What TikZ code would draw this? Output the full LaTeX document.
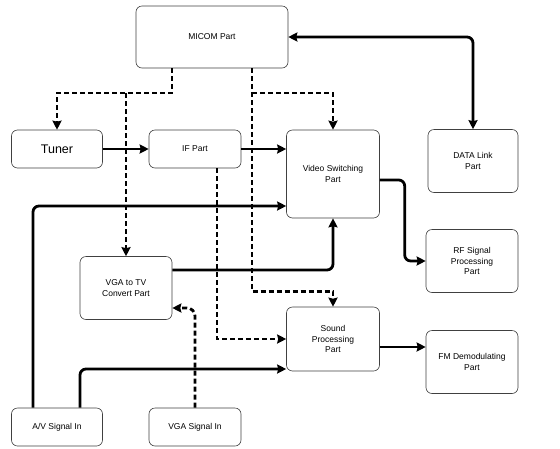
\documentclass[tikz,border=0pt]{standalone}
\usepackage{fontspec}
\setmainfont{Liberation Sans}
\usetikzlibrary{arrows.meta}

\begin{document}
\begin{tikzpicture}[
    x=1pt, y=-1pt,
    myblock/.style={rectangle, draw=black!75, line width=0.6pt, fill=white, font=\fontsize{8.5}{10.5}\selectfont, rounded corners=6pt, align=center, inner sep=0pt},
    myarrow/.style={->, >={Stealth[length=9pt,width=9pt,inset=1pt]}, line width=2.8pt, rounded corners=6pt},
    mydash/.style={->, >={Stealth[length=9pt,width=9pt,inset=1pt]}, line width=2.8pt, dash pattern=on 5pt off 3pt},
]
\useasboundingbox (0,0) rectangle (560,448);

\node[myblock, minimum width=152pt, minimum height=62pt] (micom) at (212,37) {MICOM Part};
\node[myblock, minimum width=91pt, minimum height=38pt, font=\fontsize{12.5}{14}\selectfont] (tuner) at (57,149) {Tuner};
\node[myblock, minimum width=92pt, minimum height=38pt] (ifpart) at (195,149) {IF Part};
\node[myblock, minimum width=93pt, minimum height=88pt] (video) at (333,174) {Video Switching\\Part};
\node[myblock, minimum width=90pt, minimum height=63pt] (datalink) at (473,161) {DATA Link\\Part};
\node[myblock, minimum width=92pt, minimum height=63pt] (rf) at (472,261) {RF Signal\\Processing\\Part};
\node[myblock, minimum width=92pt, minimum height=63pt] (vgatv) at (126,288) {VGA to TV\\Convert Part};
\node[myblock, minimum width=93pt, minimum height=64pt] (sound) at (333,339) {Sound\\Processing\\Part};
\node[myblock, minimum width=92pt, minimum height=63pt] (fm) at (472,362) {FM Demodulating\\Part};
\node[myblock, minimum width=91pt, minimum height=38pt] (av) at (57,427) {A/V Signal In};
\node[myblock, minimum width=92pt, minimum height=38pt] (vgain) at (195,427) {VGA Signal In};

\coordinate (jl) at (126,93);
\coordinate (jr) at (252,93);

% control lines
\draw[mydash] ([xshift=-40pt]micom.south) |- (tuner.north |- jl) -- (tuner.north);
\draw[mydash] (jl) -- (vgatv.north);
\draw[mydash] ([xshift=40pt]micom.south) |- ([yshift=15pt]sound.north) -- (sound.north);
\draw[mydash] (jr) -| (video.north);
\draw[mydash] ([xshift=22pt]ifpart.south) |- (sound.west);
\draw[mydash, rounded corners=8pt] (vgain.north) |- ([yshift=-20pt]vgatv.east);

% signal lines
\draw[myarrow, <->] (micom.east) -| (datalink.north);
\draw[myarrow] (tuner) -- (ifpart);
\draw[myarrow] (ifpart.east) -- (ifpart.east -| video.west);
\draw[myarrow] ([xshift=-24pt]av.north) |- ([yshift=-32pt]video.west);
\draw[myarrow] ([xshift=23pt]av.north) |- ([yshift=-30pt]sound.west);
\draw[myarrow] ([yshift=18pt]vgatv.east) -| (video.south);
\draw[myarrow] ([yshift=-6pt]video.east) -| ([xshift=-21pt]rf.west) -- (rf.west);
\draw[myarrow] ([yshift=-8pt]sound.east) -- ([yshift=-8pt]sound.east -| fm.west);
\end{tikzpicture}
\end{document}
